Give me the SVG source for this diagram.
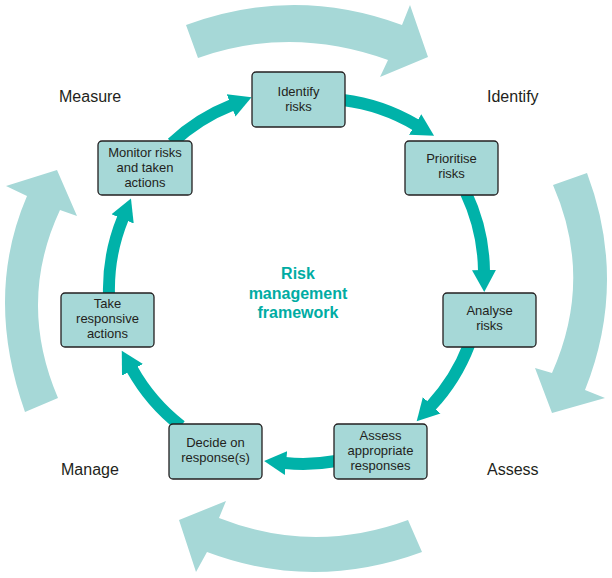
<svg xmlns="http://www.w3.org/2000/svg" width="612" height="578" viewBox="0 0 612 578">
<style>
.big{fill:#a6d8d7;stroke:none}
.conn{fill:none;stroke:#00b2a9;stroke-width:12;stroke-linecap:butt}
.box{fill:#a6d8d7;stroke:#231f20;stroke-width:1.3}
.nt{font-family:"Liberation Sans",Arial,sans-serif;font-size:13px;fill:#231f20;text-anchor:middle}
.lab{font-family:"Liberation Sans",Arial,sans-serif;font-size:16px;fill:#231f20}
.ctr{font-family:"Liberation Sans",Arial,sans-serif;font-size:16px;font-weight:bold;fill:#00aca3;text-anchor:middle}
</style>
<defs>
<marker id="ah" markerUnits="userSpaceOnUse" markerWidth="24" markerHeight="26" viewBox="0 -13 24 26" refX="1" refY="0" orient="auto">
<path d="M0,-12 L22,0 L0,12 Z" fill="#00b2a9"/>
</marker>
</defs>
<g id="cycle-arrows">
<path class="big" d="M198,58 L186,25 Q294,-15 402,25 L410,5 L428,57 L380,77 L388,60 Q291,25 198,58 Z"/>
<path class="big" d="M553,185 L587,173 Q628,282 585,390 L605,398 L552,413 L535,368 L552,373 Q594,279 553,185 Z"/>
<path class="big" d="M408,520 L422,552 Q313,592 207,552 L196,572 L179,520 L226,501 L219,518 Q313,555 408,520 Z"/>
<path class="big" d="M25,412 Q-16,296 27,196 L6,186 L57,170 L77,216 L60,210 Q17,302 58,398 Z"/>
</g>
<g id="connectors">
<path class="conn" marker-end="url(#ah)" d="M343,100 A188,188 0 0 1 416,125"/>
<path class="conn" marker-end="url(#ah)" d="M466,193 A188,188 0 0 1 484,271"/>
<path class="conn" marker-end="url(#ah)" d="M469,345 A188,188 0 0 1 431,406"/>
<path class="conn" marker-end="url(#ah)" d="M336,461 A188,188 0 0 1 285,463"/>
<path class="conn" marker-end="url(#ah)" d="M181,426 A188,188 0 0 1 132,369"/>
<path class="conn" marker-end="url(#ah)" d="M109,295 A188,188 0 0 1 123,218"/>
<path class="conn" marker-end="url(#ah)" d="M172,143 A188,188 0 0 1 232,105"/>
</g>
<g id="identify-risks">
<rect class="box" x="252" y="72" width="93" height="55" rx="4"/>
<text class="nt" x="298.5" y="95.5">Identify</text>
<text class="nt" x="298.5" y="110.5">risks</text>
</g>
<g id="prioritise-risks">
<rect class="box" x="405" y="141" width="93" height="54" rx="4"/>
<text class="nt" x="451.5" y="163">Prioritise</text>
<text class="nt" x="451.5" y="178">risks</text>
</g>
<g id="analyse-risks">
<rect class="box" x="443" y="293" width="93" height="54" rx="4"/>
<text class="nt" x="489.5" y="315">Analyse</text>
<text class="nt" x="489.5" y="330">risks</text>
</g>
<g id="assess-responses">
<rect class="box" x="334" y="424" width="93" height="55" rx="4"/>
<text class="nt" x="380.5" y="439.5">Assess</text>
<text class="nt" x="380.5" y="454.5">appropriate</text>
<text class="nt" x="380.5" y="469.5">responses</text>
</g>
<g id="decide-response">
<rect class="box" x="169" y="424" width="93" height="55" rx="4"/>
<text class="nt" x="215.5" y="446.5">Decide on</text>
<text class="nt" x="215.5" y="461.5">response(s)</text>
</g>
<g id="take-actions">
<rect class="box" x="61" y="293" width="93" height="54" rx="4"/>
<text class="nt" x="107.5" y="307.5">Take</text>
<text class="nt" x="107.5" y="322.5">responsive</text>
<text class="nt" x="107.5" y="337.5">actions</text>
</g>
<g id="monitor-risks">
<rect class="box" x="98" y="141" width="94" height="54" rx="4"/>
<text class="nt" x="145" y="157">Monitor risks</text>
<text class="nt" x="145" y="172">and taken</text>
<text class="nt" x="145" y="187">actions</text>
</g>
<g id="phase-labels">
<text class="lab" x="59" y="102">Measure</text>
<text class="lab" x="487" y="102">Identify</text>
<text class="lab" x="61" y="475">Manage</text>
<text class="lab" x="487" y="475">Assess</text>
</g>
<g id="centre-title">
<text class="ctr" x="298" y="279">Risk</text>
<text class="ctr" x="298" y="299">management</text>
<text class="ctr" x="298" y="318">framework</text>
</g>
</svg>
